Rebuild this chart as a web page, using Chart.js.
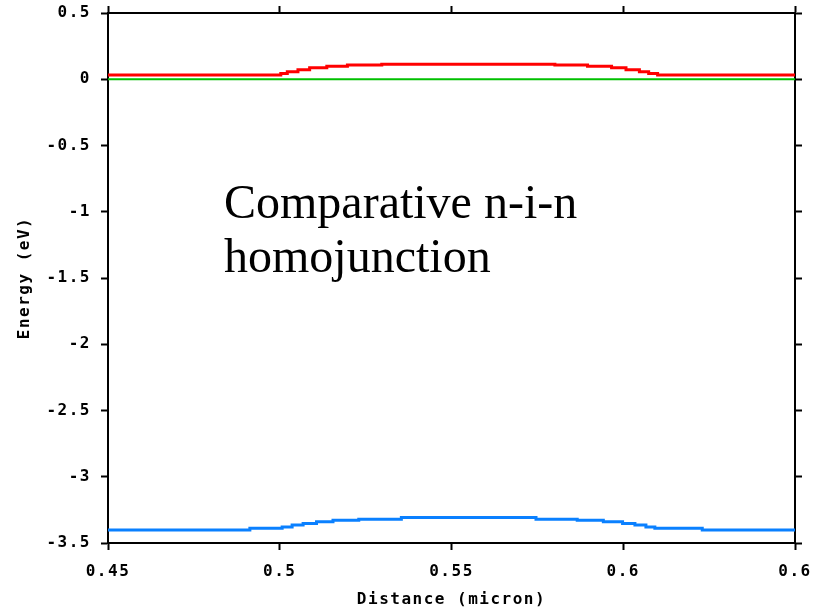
<!DOCTYPE html>
<html>
<head>
<meta charset="utf-8">
<script src="https://cdn.jsdelivr.net/npm/chart.js@4.4.0/dist/chart.umd.min.js"></script>
<style>
  body { margin: 0; background: #fff; }
  #wrap { width: 825px; height: 611px; }
</style>
</head>
<body>
<div id="wrap"><canvas id="chart" width="825" height="611"></canvas></div>
<script>
const xTickLabels = ["0.45", "0.5", "0.55", "0.6", "0.6"];
const yTickLabels = ["-3.5", "-3", "-2.5", "-2", "-1.5", "-1", "-0.5", "0", "0.5"];

// conduction band, each value holds from its x until the next x
const condX = [0.45, 0.5003, 0.5022, 0.5053, 0.5087, 0.5137, 0.5197, 0.5297, 0.5801, 0.5896, 0.5966, 0.6008, 0.6047, 0.6074, 0.61, 0.65];
const condE = [0.032, 0.044, 0.056, 0.071, 0.086, 0.099, 0.107, 0.114, 0.107, 0.099, 0.086, 0.071, 0.056, 0.044, 0.032, 0.032];
// valence band
const valX = [0.45, 0.4913, 0.5007, 0.5036, 0.5068, 0.5107, 0.5155, 0.523, 0.5354, 0.5746, 0.5866, 0.5942, 0.5998, 0.6034, 0.6066, 0.6092, 0.623, 0.65];
const valE = [-3.402, -3.389, -3.38, -3.365, -3.352, -3.34, -3.329, -3.32, -3.307, -3.32, -3.329, -3.34, -3.352, -3.365, -3.38, -3.389, -3.402, -3.402];
// fermi level
const fermiX = [0.45, 0.65];
const fermiE = [0, 0];

const noteLines = ["Comparative n-i-n", "homojunction"];

const pts = (xs, ys) => xs.map((x, i) => ({ x: x, y: ys[i] }));
const monoFont = { family: "'DejaVu Sans Mono', monospace", weight: "bold", size: 16 };

const spacing = {
  id: "spacing",
  beforeDraw(chart) {
    chart.ctx.letterSpacing = "1.5px";
  },
  afterDraw(chart) {
    const ctx = chart.ctx;
    ctx.save();
    ctx.letterSpacing = "0px";
    ctx.fillStyle = "#000";
    ctx.font = '48px "Liberation Serif", "Times New Roman", serif';
    ctx.textAlign = "left";
    ctx.textBaseline = "alphabetic";
    ctx.fillText(noteLines[0], 224, 218);
    ctx.fillText(noteLines[1], 224, 272);
    ctx.restore();
  },
};

const noPad = (s) => {
  s.paddingTop = 0;
  s.paddingBottom = 0;
  s.paddingLeft = 0;
  s.paddingRight = 0;
};

const axisGrid = { drawOnChartArea: false, drawTicks: true, tickLength: 7, tickWidth: 2, tickColor: "#000" };
const axisBorder = { display: true, color: "#000", width: 2 };

new Chart(document.getElementById("chart").getContext("2d"), {
  type: "line",
  data: {
    datasets: [
      { data: pts(fermiX, fermiE), borderColor: "#00c000", borderWidth: 2, pointRadius: 0 },
      { data: pts(condX, condE), borderColor: "#ff0000", borderWidth: 3, pointRadius: 0, stepped: "before" },
      { data: pts(valX, valE), borderColor: "#0a80ff", borderWidth: 3, pointRadius: 0, stepped: "before" },
    ],
  },
  options: {
    responsive: false,
    animation: false,
    layout: { padding: 0 },
    plugins: { legend: { display: false }, tooltip: { enabled: false } },
    scales: {
      x: {
        type: "linear",
        position: "bottom",
        min: 0.45,
        max: 0.65,
        ticks: {
          stepSize: 0.05,
          autoSkip: false,
          maxRotation: 0,
          padding: 12,
          color: "#000",
          font: monoFont,
          callback: (v, i) => xTickLabels[i],
        },
        grid: axisGrid,
        border: axisBorder,
        title: { display: true, text: "Distance (micron)", color: "#000", font: monoFont, padding: { top: 0, bottom: 2 } },
        afterFit: (s) => { s.height = 68; noPad(s); },
      },
      xTop: {
        type: "linear",
        position: "top",
        min: 0.45,
        max: 0.65,
        ticks: { stepSize: 0.05, display: false },
        grid: axisGrid,
        border: axisBorder,
        afterFit: (s) => { s.height = 13; noPad(s); },
      },
      y: {
        type: "linear",
        position: "left",
        min: -3.5,
        max: 0.5,
        ticks: {
          stepSize: 0.5,
          autoSkip: false,
          padding: 10,
          color: "#000",
          font: monoFont,
          callback: (v, i) => yTickLabels[i],
        },
        grid: axisGrid,
        border: axisBorder,
        title: { display: true, text: "Energy (eV)", color: "#000", font: monoFont, padding: { top: 15, bottom: 0 } },
        afterFit: (s) => { s.width = 108; noPad(s); },
      },
      yRight: {
        type: "linear",
        position: "right",
        min: -3.5,
        max: 0.5,
        ticks: { stepSize: 0.5, display: false },
        grid: axisGrid,
        border: axisBorder,
        afterFit: (s) => { s.width = 30; noPad(s); },
      },
    },
  },
  plugins: [spacing],
});
</script>
</body>
</html>
